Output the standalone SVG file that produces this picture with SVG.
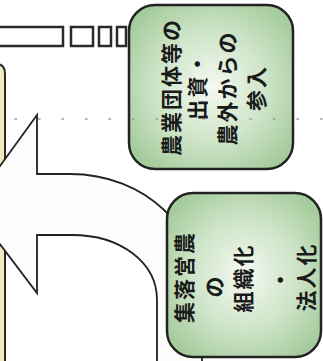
<svg xmlns="http://www.w3.org/2000/svg" width="323" height="361" viewBox="0 0 323 361">
<defs>
<radialGradient id="g" cx="50%" cy="50%" r="60%">
<stop offset="0" stop-color="#f4f9f1"/>
<stop offset="0.55" stop-color="#cfe5c9"/>
<stop offset="1" stop-color="#a6cc9e"/>
</radialGradient>
<style>
.box{fill:url(#g);stroke:#222;stroke-width:2.5}
.t{font-family:"Noto Sans CJK JP","Noto Sans CJK SC",sans-serif;font-weight:bold;font-size:21px;letter-spacing:2px;fill:#1a1a1a;text-anchor:middle;dominant-baseline:central}
.ln{fill:#fff;stroke:#2a2a2a;stroke-width:2.5}
.arrow{fill:#fdfdfb;stroke:#222;stroke-width:1.8;stroke-linejoin:miter}
</style>
</defs>
<rect width="323" height="361" fill="#fff"/>
<g id="topbar">
<rect class="ln" x="-3" y="27" width="66" height="19"/>
<rect class="ln" x="71" y="27" width="22" height="19"/>
<rect class="ln" x="99" y="27" width="12" height="19"/>
<rect class="ln" x="117" y="27" width="9" height="19"/>
</g>
<g id="yellowbar">
<path d="M -10 64 L -4 64 Q 5 64 5 74 L 5 365 L -10 365 Z" fill="#f1ebbd" stroke="#2a2a2a" stroke-width="2"/>
</g>
<g id="connectors">
<path class="arrow" d="M 37 115 L 37 174 L 70 174 C 145 174 202 228 202 300 L 202 365 L 157 365 L 157 300 C 157 262 120 235 72 235 L 37 235 L 37 293 L -29 206 Z"/>
</g>
<g id="node1">
<rect class="box" x="129" y="5" width="164" height="164" rx="26"/>
<text class="t" transform="translate(170,87) rotate(-90)">農業団体等の</text>
<text class="t" transform="translate(196,86) rotate(-90)">出資・</text>
<text class="t" transform="translate(226,88) rotate(-90)">農外からの</text>
<text class="t" transform="translate(255,88) rotate(-90)">参入</text>
</g>
<g id="node2">
<rect class="box" x="167" y="193" width="154" height="164" rx="26"/>
<text class="t" transform="translate(183,277) rotate(-90)">集落営農</text>
<text class="t" transform="translate(213,286) rotate(-90)">の</text>
<text class="t" transform="translate(242,278) rotate(-90)">組織化</text>
<text class="t" transform="translate(279,279) rotate(-90)">・</text>
<text class="t" transform="translate(305,277) rotate(-90)">法人化</text>
</g>
<g id="dots">
<line x1="15" y1="119" x2="323" y2="119" stroke="#9a9a9a" stroke-width="1.5" stroke-dasharray="1.5 22" stroke-linecap="round"/>
</g>
</svg>
